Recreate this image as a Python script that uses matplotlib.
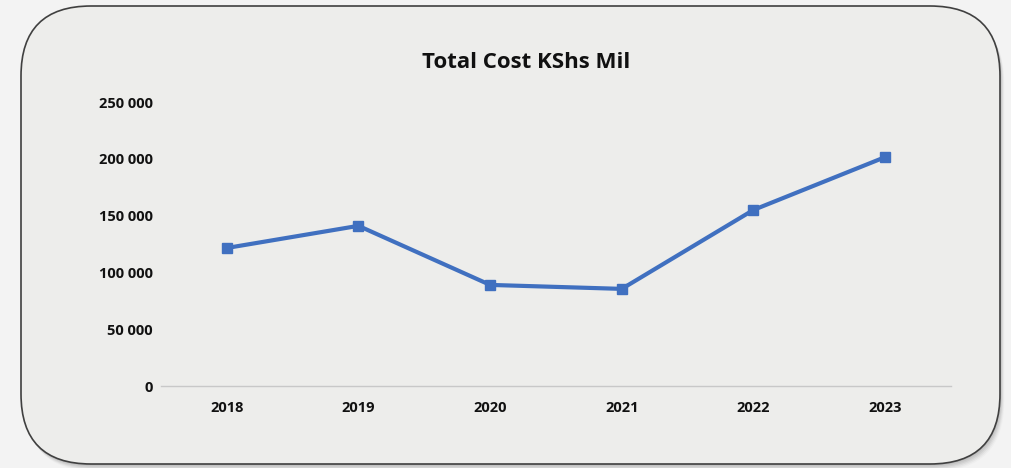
import matplotlib.pyplot as plt
from matplotlib.patches import FancyBboxPatch
from matplotlib.ticker import FuncFormatter

years = ["2018", "2019", "2020", "2021", "2022", "2023"]
total_cost = [121500, 141000, 89000, 85500, 155000, 201500]
y_ticks = [0, 50000, 100000, 150000, 200000, 250000]

plt.rcParams['font.family'] = ['Open Sans', 'DejaVu Sans']

fig = plt.figure(figsize=(10.12, 4.68), dpi=100)
fig.patch.set_facecolor("#f3f3f3")

# soft shadow behind the rounded panel
for i, a in enumerate([0.05, 0.05, 0.05, 0.04, 0.03, 0.02]):
    off = (i + 1) * 0.012
    sh = FancyBboxPatch((0.21 + off * 0.6, 0.04 - off), 9.79, 4.58,
                        boxstyle="round,pad=0,rounding_size=0.7",
                        transform=fig.dpi_scale_trans, facecolor="black",
                        edgecolor="none", alpha=a, zorder=0)
    fig.patches.append(sh)

panel = FancyBboxPatch((0.21, 0.04), 9.79, 4.58,
                       boxstyle="round,pad=0,rounding_size=0.7",
                       transform=fig.dpi_scale_trans, facecolor="#ededeb",
                       edgecolor="#404040", linewidth=1.2, zorder=1)
fig.patches.append(panel)

ax = fig.add_axes([0.159, 0.1752, 0.7807, 0.6068])
ax.set_zorder(5)
ax.set_facecolor("none")
x = list(range(len(years)))
ax.plot(x, total_cost, color="#4070c0", linewidth=3, marker="s",
        markersize=7, solid_joinstyle="round")

ax.set_xlim(-0.5, len(years) - 0.5)
ax.set_ylim(0, 250000)
ax.set_yticks(y_ticks)
ax.yaxis.set_major_formatter(FuncFormatter(lambda v, p: f"{int(v):,}".replace(",", " ")))
ax.set_xticks(x)
ax.set_xticklabels(years)

for s in ["top", "right", "left"]:
    ax.spines[s].set_visible(False)
ax.spines["bottom"].set_color("#c8c8c8")
ax.spines["bottom"].set_linewidth(1)
ax.tick_params(axis="both", length=0, labelsize=10.5, colors="#111111")
ax.tick_params(axis="y", pad=6)
ax.tick_params(axis="x", pad=11)
for lbl in ax.get_xticklabels() + ax.get_yticklabels():
    lbl.set_fontweight("bold")

fig.text(0.52, 0.867, "Total Cost KShs Mil", ha="center", va="center",
         fontsize=16, fontweight="bold", color="#111111", zorder=6)

fig.savefig("out.png", dpi=100, facecolor=fig.get_facecolor())
